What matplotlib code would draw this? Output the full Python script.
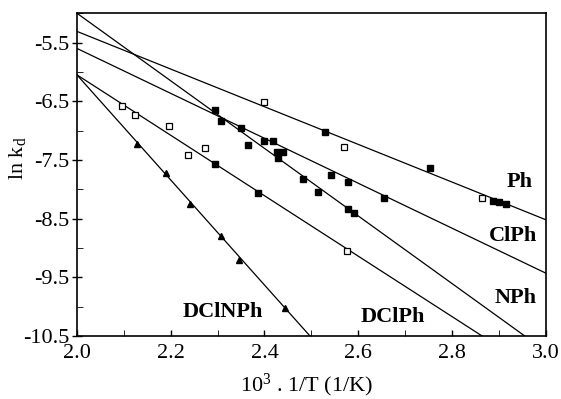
import matplotlib
matplotlib.use("Agg")
import matplotlib.pyplot as plt
import numpy as np

plt.rcParams['font.family'] = ['Liberation Serif', 'DejaVu Serif']
plt.rcParams['mathtext.fontset'] = 'custom'
plt.rcParams['mathtext.rm'] = 'Liberation Serif'
plt.rcParams['mathtext.it'] = 'Liberation Serif:italic'
plt.rcParams['axes.unicode_minus'] = False

# fitted lines: (x0, y0, x1, y1)
line_names = ["Ph", "ClPh", "NPh", "DClPh", "DClNPh"]
line_x0 = [2.0, 2.0, 2.0, 2.0, 2.0]
line_y0 = [-5.31, -5.60, -5.00, -6.05, -6.05]
line_x1 = [3.0, 3.0, 2.955, 2.864, 2.497]
line_y1 = [-8.52, -9.43, -10.5, -10.5, -10.5]

# points, filled squares
fill_x = [2.529, 2.753, 2.888, 2.900, 2.916,          # Ph
          2.307, 2.351, 2.399, 2.418, 2.541, 2.578, 2.655,   # ClPh
          2.294, 2.365, 2.426, 2.439, 2.429, 2.482, 2.514, 2.578, 2.591,  # NPh
          2.294, 2.386]                               # DClPh
fill_y = [-7.03, -7.64, -8.20, -8.22, -8.25,
          -6.84, -6.95, -7.18, -7.18, -7.75, -7.87, -8.15,
          -6.65, -7.25, -7.36, -7.36, -7.46, -7.82, -8.04, -8.33, -8.40,
          -7.57, -8.06]

# open squares
open_x = [2.399, 2.569, 2.864,
          2.097, 2.125, 2.196, 2.237, 2.273, 2.576]
open_y = [-6.52, -7.28, -8.15,
          -6.58, -6.73, -6.92, -7.42, -7.30, -9.06]

# DClNPh triangles
tri_x = [2.129, 2.190, 2.241, 2.307, 2.346, 2.444]
tri_y = [-7.23, -7.72, -8.25, -8.80, -9.21, -10.03]

lab_x = [2.945, 2.930, 2.936, 2.674, 2.311]
lab_y = [-7.87, -8.79, -9.86, -10.18, -10.09]

fig = plt.figure(figsize=(5.61, 3.99), dpi=100)
ax = fig.add_axes([0.137, 0.158, 0.836, 0.809])

for i in range(len(line_names)):
    ax.plot([line_x0[i], line_x1[i]], [line_y0[i], line_y1[i]], color='black', lw=0.9)
    ax.text(lab_x[i], lab_y[i], line_names[i], fontsize=16, fontweight='bold',
            ha='center', va='center')

ax.plot(fill_x, fill_y, 's', ms=4.5, mfc='black', mec='black', ls='none')
ax.plot(open_x, open_y, 's', ms=4.5, mfc='white', mec='black', mew=0.9, ls='none')
ax.plot(tri_x, tri_y, '^', ms=4.5, mfc='black', mec='black', ls='none')

ax.set_xlim(2.0, 3.0)
ax.set_ylim(-10.5, -5.0)
ax.set_xticks(np.arange(2.0, 3.01, 0.2))
ax.set_xticks(np.arange(2.0, 3.01, 0.1), minor=True)
ax.set_yticks([-10.5, -9.5, -8.5, -7.5, -6.5, -5.5])
ax.set_yticks([-10.0, -9.0, -8.0, -7.0, -6.0, -5.0], minor=True)
ax.tick_params(axis='both', labelsize=16, width=1, color='black')
ax.tick_params(axis='x', which='both', direction='in', length=4, pad=6)
ax.tick_params(axis='y', which='major', direction='inout', length=7, pad=2)
ax.tick_params(axis='y', which='minor', direction='in', length=4)
for s in ax.spines.values():
    s.set_linewidth(1.2)

ax.set_xlabel("10$^3$ . 1/T (1/K)", fontsize=16)
ax.xaxis.set_label_coords(0.49, -0.112)
ax.set_ylabel(r"ln k$_{\mathrm{d}}$", fontsize=16)
ax.yaxis.set_label_coords(-0.105, 0.55)

fig.savefig("out.png", dpi=100)
